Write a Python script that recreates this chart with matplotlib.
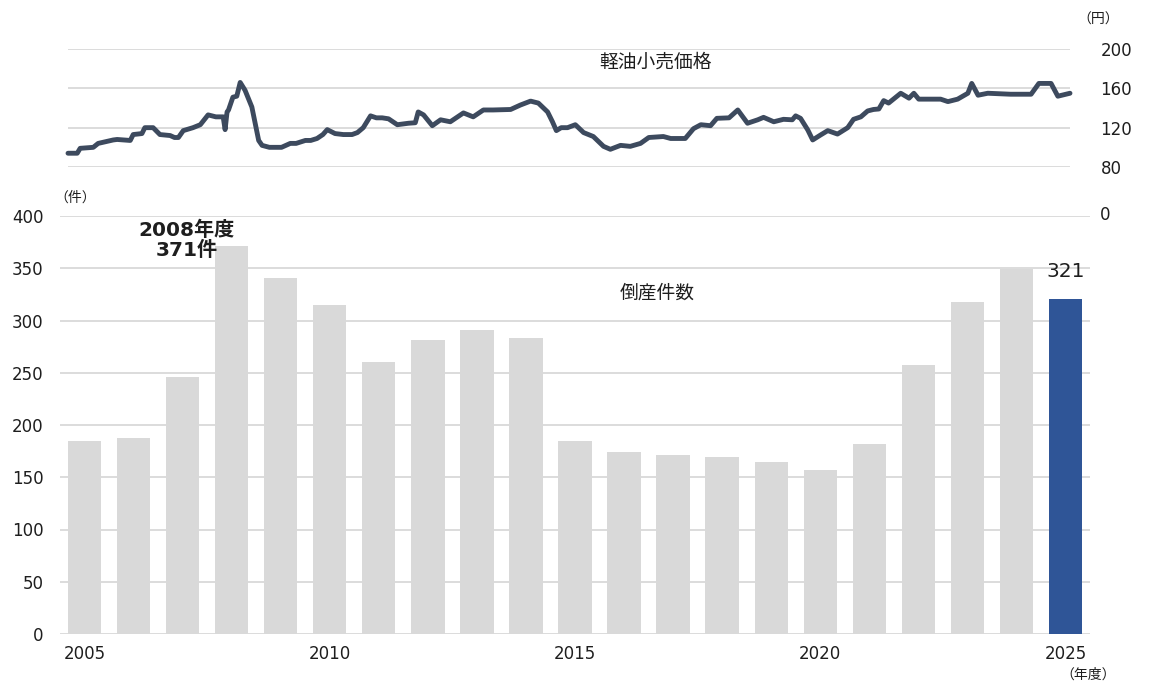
import matplotlib
matplotlib.use("Agg")
import matplotlib.pyplot as plt

plt.rcParams['font.family'] = ['Noto Sans CJK JP', 'DejaVu Sans']
NUM_FONT = ['DejaVu Sans', 'Noto Sans CJK JP']

# --- bankruptcies per fiscal year ---
fiscal_years = list(range(2005, 2026))
bankruptcies = [185, 188, 246, 371, 341, 315, 260, 281, 291, 283,
                185, 174, 171, 169, 165, 157, 182, 257, 318, 349, 321]
year_ticks = [2005, 2010, 2015, 2020, 2025]

# --- diesel retail price (yen/L), time as decimal year ---
price_t = [2005.06, 2005.25, 2005.31, 2005.58, 2005.68, 2005.99, 2006.07, 2006.34,
           2006.40, 2006.58, 2006.64, 2006.81, 2006.95, 2007.16, 2007.25, 2007.33,
           2007.43, 2007.63, 2007.78, 2007.94, 2008.10, 2008.25, 2008.29, 2008.33,
           2008.36, 2008.45, 2008.53, 2008.60, 2008.70, 2008.84, 2008.98, 2009.05,
           2009.20, 2009.45, 2009.63, 2009.75, 2009.94, 2010.05, 2010.18, 2010.30,
           2010.39, 2010.55, 2010.72, 2010.90, 2011.01, 2011.13, 2011.28, 2011.40,
           2011.52, 2011.65, 2011.83, 2012.06, 2012.20, 2012.26, 2012.37, 2012.55,
           2012.72, 2012.92, 2013.19, 2013.39, 2013.60, 2013.80, 2014.16, 2014.36,
           2014.57, 2014.73, 2014.92, 2015.02, 2015.10, 2015.20, 2015.33, 2015.49,
           2015.66, 2015.86, 2016.07, 2016.21, 2016.42, 2016.62, 2016.83, 2017.00,
           2017.30, 2017.45, 2017.75, 2017.92, 2018.07, 2018.27, 2018.40, 2018.65,
           2018.83, 2019.03, 2019.24, 2019.36, 2019.57, 2019.77, 2019.95, 2020.02,
           2020.12, 2020.27, 2020.37, 2020.53, 2020.68, 2020.88, 2021.09, 2021.21,
           2021.36, 2021.50, 2021.62, 2021.73, 2021.83, 2021.93, 2022.18, 2022.35,
           2022.45, 2022.55, 2022.76, 2023.00, 2023.15, 2023.35, 2023.56, 2023.64,
           2023.77, 2023.97, 2024.44, 2024.86, 2025.02, 2025.27, 2025.41, 2025.66]
price = [94, 94, 99, 100, 104, 107.5, 108, 107,
         113, 114, 120, 120, 113, 112, 110, 110,
         117, 120, 123, 133, 131, 131, 118, 136,
         138, 151, 152, 166, 158, 141, 107, 102,
         100, 100, 104, 104, 107, 107, 109, 113,
         118, 114, 113, 113, 115, 120, 132, 130,
         130, 129, 123, 124.5, 125, 136, 133, 122,
         128, 126, 135, 131, 138, 138, 138.5, 143,
         147, 145, 136, 126, 117, 120, 120, 123,
         115, 111, 101, 98, 102, 101, 104, 110,
         111, 109, 109, 119, 123, 122, 129.5, 130,
         138, 124.5, 128, 130.5, 126, 128.5, 128, 132,
         129.5, 117.6, 107.5, 112.5, 117, 113.5, 120, 128.5,
         131, 137, 138.5, 139, 147.5, 145, 155, 150,
         155, 149, 149, 149, 146.5, 149, 155, 165,
         153, 155, 154, 154, 165, 165, 152, 155]
price_ticks = [80, 120, 160, 200]

GRID = '#d9d9d9'
TXT = '#1e1e1e'
W, H = 1158, 698


def px_box(l, t, r, b):
    return [l / W, 1 - b / H, (r - l) / W, (b - t) / H]


fig = plt.figure(figsize=(W / 100, H / 100), dpi=100)

# bar chart
ax = fig.add_axes(px_box(60, 216, 1090, 634))
n = len(fiscal_years)
colors = ['#d9d9d9'] * (n - 1) + ['#2f5597']
ax.bar(range(n), bankruptcies, width=0.68, color=colors, zorder=2)
ax.set_xlim(-0.5, n - 0.5)
ax.set_ylim(0, 400)
ax.set_yticks(range(0, 401, 50))
ax.set_xticks([fiscal_years.index(y) for y in year_ticks])
ax.set_xticklabels([str(y) for y in year_ticks])
ax.grid(axis='y', color=GRID, lw=1.3, zorder=0)
ax.set_axisbelow(True)
for s in ax.spines.values():
    s.set_visible(False)
ax.tick_params(length=0, labelsize=12, colors=TXT)
ax.tick_params(axis='y', pad=12)
ax.tick_params(axis='x', pad=8)
for lab in ax.get_xticklabels() + ax.get_yticklabels():
    lab.set_family(NUM_FONT)

i08 = fiscal_years.index(2008)
ax.annotate(f"2008年度\n{bankruptcies[i08]}件", xy=(i08, bankruptcies[i08]),
            xytext=(-45, 6), textcoords='offset pixels', ha='center', va='center',
            fontsize=14.5, fontweight='bold', color=TXT, linespacing=1.05,
            family=NUM_FONT, annotation_clip=False)
ax.annotate(f"{bankruptcies[-1]}", xy=(n - 1, bankruptcies[-1]),
            xytext=(0, 27), textcoords='offset pixels', ha='center', va='center',
            fontsize=14.5, color=TXT, family=NUM_FONT, annotation_clip=False)

# price line
axp = fig.add_axes(px_box(68, 49, 1070, 167))
axp.plot(price_t, price, color='#3d4a5e', lw=3.5, solid_joinstyle='round',
         solid_capstyle='round', clip_on=False)
axp.set_xlim(price_t[0], price_t[-1])
axp.set_ylim(80, 200)
axp.set_yticks(price_ticks)
axp.set_xticks([])
axp.yaxis.tick_right()
axp.grid(axis='y', color=GRID, lw=1.3, zorder=0)
axp.set_axisbelow(True)
for s in axp.spines.values():
    s.set_visible(False)
axp.tick_params(length=0, labelsize=12, colors=TXT, pad=22)
for lab in axp.get_yticklabels():
    lab.set_family(NUM_FONT)
axp.set_facecolor('none')

# labels
fig.text(655 / W, 1 - 62 / H, '軽油小売価格', ha='center', va='center', fontsize=13.5, color=TXT)
fig.text(657 / W, 1 - 293 / H, '倒産件数', ha='center', va='center', fontsize=13.5, color=TXT)
fig.text(1105 / W, 1 - 215 / H, '0', ha='center', va='center', fontsize=12,
         color=TXT, family=NUM_FONT)
fig.text(75 / W, 1 - 198 / H, '（件）', ha='center', va='center', fontsize=10, color=TXT)
fig.text(1098 / W, 1 - 20 / H, '（円）', ha='center', va='center', fontsize=10, color=TXT)
fig.text(1088 / W, 1 - 675 / H, '（年度）', ha='center', va='center', fontsize=10, color=TXT)

fig.savefig('out.png', dpi=100)
